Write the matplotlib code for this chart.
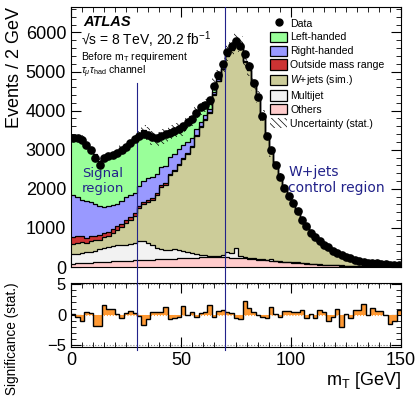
import numpy as np
import matplotlib
matplotlib.use("Agg")
import matplotlib.pyplot as plt
from matplotlib.patches import Patch
from matplotlib.lines import Line2D

plt.rcParams['font.family'] = ['Liberation Sans', 'DejaVu Sans']
plt.rcParams['mathtext.fontset'] = 'custom'
plt.rcParams['mathtext.rm'] = 'Liberation Sans'
plt.rcParams['mathtext.it'] = 'Liberation Sans:italic'
plt.rcParams['mathtext.bf'] = 'Liberation Sans:bold'
plt.rcParams['hatch.linewidth'] = 0.5

# ---- data ----
bin_edges = np.arange(0, 152, 2)

others = [80, 90, 100, 110, 115, 120, 130, 135, 140, 145,
          150, 155, 160, 165, 170, 175, 180, 185, 190, 195,
          200, 205, 210, 215, 220, 225, 230, 235, 240, 245,
          248, 250, 250, 250, 248, 245, 240, 235, 228, 220,
          210, 200, 190, 180, 170, 160, 150, 140, 130, 120,
          110, 100, 92, 84, 76, 68, 62, 56, 50, 45,
          40, 36, 32, 28, 25, 22, 20, 18, 16, 14,
          12, 11, 10, 9, 8]

multijet = [250, 250, 260, 270, 280, 300, 340, 360, 380, 400,
            410, 420, 400, 420, 440, 500, 480, 420, 380, 300,
            260, 240, 230, 250, 220, 180, 150, 120, 90, 60,
            50, 40, 35, 30, 60, 150, 120, 260, 60, 30,
            20, 20, 15, 15, 10, 40, 15, 10, 10, 10,
            8, 30, 8, 6, 5, 5, 20, 4, 4, 3,
            3, 3, 2, 2, 2, 2, 2, 1, 1, 1,
            1, 1, 1, 1, 1]

wjets = [270, 270, 280, 240, 265, 260, 230, 265, 280, 325,
         390, 445, 560, 615, 690, 825, 940, 1045, 1150, 1355,
         1590, 1655, 1910, 1985, 2160, 2345, 2500, 2725, 3020, 3275,
         3462, 3660, 4115, 4473, 4753, 4995, 5187, 5265, 5364, 4989,
         4806, 4423, 4127, 3658, 3181, 2719, 2437, 2153, 1853, 1655,
         1484, 1264, 1076, 964, 791, 720, 563, 487, 468, 377,
         307, 293, 221, 194, 149, 115, 87, 95, 71, 68,
         57, 53, 55, 46, 27]

outside = [170, 180, 150, 130, 130, 120, 110, 110, 100, 100,
           90, 85, 80, 80, 75, 70, 65, 60, 55, 50,
           45, 40, 40, 35, 35, 30, 30, 25, 25, 20,
           20, 18, 15, 15, 12, 10, 10, 8, 8, 6,
           5, 5, 4, 4, 3, 3, 3, 2, 2, 2,
           2, 2, 1, 1, 1, 1, 1, 1, 1, 1,
           1, 1, 1, 1, 1, 0, 0, 0, 0, 0,
           0, 0, 0, 0, 0]

right_handed = [1070, 1010, 930, 930, 860, 820, 750, 670, 660, 610,
                580, 595, 580, 550, 525, 500, 540, 560, 520, 480,
                470, 450, 430, 400, 380, 330, 280, 200, 150, 120,
                100, 80, 60, 50, 40, 30, 25, 20, 18, 15,
                12, 10, 9, 8, 7, 6, 5, 5, 4, 4,
                3, 3, 3, 2, 2, 2, 2, 2, 1, 1,
                1, 1, 1, 1, 1, 1, 1, 1, 1, 1,
                0, 0, 0, 0, 0]

left_handed = [1450, 1510, 1600, 1420, 1310, 1280, 1160, 1160, 1240, 1240,
               1295, 1335, 1285, 1305, 1365, 1290, 1290, 1150, 1010, 890,
               765, 740, 640, 630, 530, 405, 515, 450, 445, 340,
               245, 125, 170, 40, 30, 40, 35, 30, 25, 20,
               18, 15, 12, 10, 8, 6, 5, 4, 4, 3,
               3, 2, 2, 2, 2, 1, 1, 1, 1, 1,
               1, 1, 1, 1, 1, 0, 0, 0, 0, 0,
               0, 0, 0, 0, 0]

data_counts = [3300, 3290, 3260, 3130, 2980, 2800, 2620, 2780, 2850, 2870,
               2920, 3000, 3080, 3170, 3280, 3350, 3400, 3380, 3330, 3300,
               3360, 3400, 3420, 3480, 3520, 3600, 3700, 3780, 3950, 4080,
               4150, 4280, 4620, 4900, 5200, 5500, 5640, 5780, 5650, 5450,
               5150, 4700, 4350, 3850, 3350, 3000, 2620, 2300, 2030, 1820,
               1630, 1420, 1210, 1040, 880, 780, 670, 560, 500, 420,
               370, 300, 260, 220, 190, 150, 130, 115, 100, 90,
               75, 65, 55, 48, 40]

stat_unc = [60, 60, 60, 60, 60, 60, 60, 60, 65, 70,
            75, 80, 85, 90, 100, 110, 140, 160, 180, 190,
            190, 190, 180, 180, 170, 170, 160, 160, 160, 160,
            170, 170, 180, 190, 200, 200, 200, 200, 200, 190,
            180, 170, 150, 140, 125, 110, 100, 95, 90, 80,
            75, 70, 60, 55, 50, 45, 42, 40, 36, 32,
            28, 25, 22, 20, 18, 16, 14, 12, 11, 10,
            9, 8, 7, 6, 6]

significance = [0.1, -0.4, -1.1, 0.5, 0.3, -1.9, -1.9, 1.5, 1.0, 1.0,
                0.1, -0.6, 0.3, 0.6, 0.3, -0.2, -1.6, -0.7, 0.4, 0.5,
                0.5, 1.2, -0.7, -0.6, -0.4, 1.4, -0.1, 0.4, -0.3, 0.3,
                0.4, 1.6, -0.4, 0.6, 0.8, 0.4, 0.3, -0.6, -0.7, 2.3,
                1.1, 0.4, -0.1, -0.4, -0.5, 1.2, 0.1, -0.3, 0.6, 0.6,
                0.5, 0.5, 0.8, -0.6, 0.1, -0.6, 0.8, 0.4, -1.1, -0.4,
                0.9, -2.0, 0.1, -0.5, 0.8, 0.8, 1.8, 0.0, 1.1, 0.6,
                0.6, 0.0, -1.5, -1.1, 0.7]

components = [
    ("Others", others, "#FFCCCC"),
    ("Multijet", multijet, "#F2F2F2"),
    (r"$W$+jets (sim.)", wjets, "#CCCC99"),
    ("Outside mass range", outside, "#CC3333"),
    ("Right-handed", right_handed, "#9999FF"),
    ("Left-handed", left_handed, "#99FF99"),
]

region_color = "#22228A"

fig = plt.figure(figsize=(4.18, 3.96), dpi=100)
W, H = 418, 396
ax = fig.add_axes([71 / W, 1 - 267 / H, 330 / W, 260 / H])
axr = fig.add_axes([71 / W, 1 - 346.7 / H, 330 / W, 64 / H])

edges = bin_edges
centers = 0.5 * (edges[:-1] + edges[1:])
cum = np.zeros(len(centers))
for label, vals, col in components:
    vals = np.asarray(vals, dtype=float)
    ax.stairs(cum + vals, edges, baseline=cum, fill=True, facecolor=col,
              edgecolor='none', zorder=2)
    ax.stairs(cum + vals, edges, baseline=None, color='black', lw=0.9, zorder=3)
    cum = cum + vals
total = cum

unc = np.asarray(stat_unc, dtype=float)
ax.bar(centers, 2 * unc, bottom=total - unc, width=2.0, facecolor='none',
       edgecolor='black', linewidth=0, hatch='\\\\\\\\\\', zorder=4)

ax.plot(centers, data_counts, 'o', color='black', markersize=5.2, zorder=6)

ax.set_xlim(0, 150)
ax.set_ylim(0, 6650)
ax.set_xticks([0, 50, 100, 150])
ax.set_xticks(np.arange(0, 151, 5), minor=True)
ax.set_yticks(np.arange(0, 6001, 1000))
ax.set_yticks(np.arange(0, 6601, 200), minor=True)
ax.tick_params(axis='both', which='both', direction='in', top=True, right=True)
ax.tick_params(axis='both', which='major', length=7, labelsize=13)
ax.tick_params(axis='both', which='minor', length=3.5)
ax.tick_params(axis='x', labelbottom=False)
ax.set_ylabel("Events / 2 GeV", fontsize=13, loc='top', labelpad=2)

# region lines
ax.plot([30, 30], [0, 4700], color=region_color, lw=0.8, zorder=5)
ax.axvline(70, color=region_color, lw=0.8, zorder=5)

ax.text(0.033, 0.33, "Signal\nregion", transform=ax.transAxes, color=region_color,
        fontsize=9.5, family='DejaVu Sans', va='center', ha='left', linespacing=1.25, zorder=7)
ax.text(0.658, 0.335, "W+jets\ncontrol region", transform=ax.transAxes, color=region_color,
        fontsize=10, family='DejaVu Sans', va='center', ha='left', linespacing=1.2, zorder=7)

ax.text(0.036, 0.942, "ATLAS", transform=ax.transAxes, fontsize=10.5,
        fontweight='bold', fontstyle='italic', va='center', ha='left', zorder=7)
ax.text(0.03, 0.873, "\u221as = 8 TeV, 20.2 fb$^{-1}$", transform=ax.transAxes,
        fontsize=10, va='center', ha='left', zorder=7)
ax.text(0.03, 0.808, r"Before m$_{\mathrm{T}}$ requirement", transform=ax.transAxes,
        fontsize=7.5, va='center', ha='left', zorder=7)
ax.text(0.03, 0.752, r"$\tau_{\mu}\tau_{\mathrm{had}}$ channel", transform=ax.transAxes,
        fontsize=7.5, va='center', ha='left', zorder=7)

handles = [Line2D([], [], marker='o', color='black', linestyle='none', markersize=5)]
labels = ["Data"]
for label, vals, col in reversed(components):
    handles.append(Patch(facecolor=col, edgecolor='black', linewidth=0.9))
    labels.append(label)
handles.append(Patch(facecolor='none', edgecolor='black', linewidth=0, hatch='\\\\\\\\\\'))
labels.append("Uncertainty (stat.)")
ax.legend(handles, labels, loc='upper left', bbox_to_anchor=(0.601, 0.962),
          frameon=False, fontsize=7.6, handlelength=1.6, handleheight=1.1,
          handletextpad=0.3, labelspacing=0.3, borderpad=0.1, borderaxespad=0)

# ratio panel
sig = np.asarray(significance, dtype=float)
axr.stairs(sig, edges, baseline=0, fill=True, facecolor='#FF9933', edgecolor='none', zorder=2)
axr.stairs(sig, edges, baseline=None, color='black', lw=1.0, zorder=3)
for yv in (-5, 5):
    axr.axhline(yv, color='#888888', lw=0.8, ls=':', zorder=1)
axr.axhline(0, color='#FF9933', lw=0.8, ls=':', zorder=1)
axr.set_xlim(0, 150)
axr.set_ylim(-5.2, 5.2)
axr.set_xticks([0, 50, 100, 150])
axr.set_xticks(np.arange(0, 151, 5), minor=True)
axr.set_yticks([-5, 0, 5])
axr.set_yticklabels(["\u22125", "0", "5"])
axr.set_yticks(np.arange(-5, 6, 1), minor=True)
axr.tick_params(axis='both', which='both', direction='in', top=True, right=True)
axr.tick_params(axis='both', which='major', length=7, labelsize=13)
axr.tick_params(axis='y', which='major', labelsize=12)
axr.tick_params(axis='both', which='minor', length=3.5)
axr.set_xlabel(r"m$_{\mathrm{T}}$ [GeV]", fontsize=13, loc='right', labelpad=1)
axr.set_ylabel("Significance (stat.)", fontsize=9.8, loc='top', labelpad=20)
for xv in (30, 70):
    axr.axvline(xv, ymin=-0.05, ymax=1.25, color=region_color, lw=0.8, clip_on=False, zorder=5)

fig.savefig("out.png", dpi=100)
